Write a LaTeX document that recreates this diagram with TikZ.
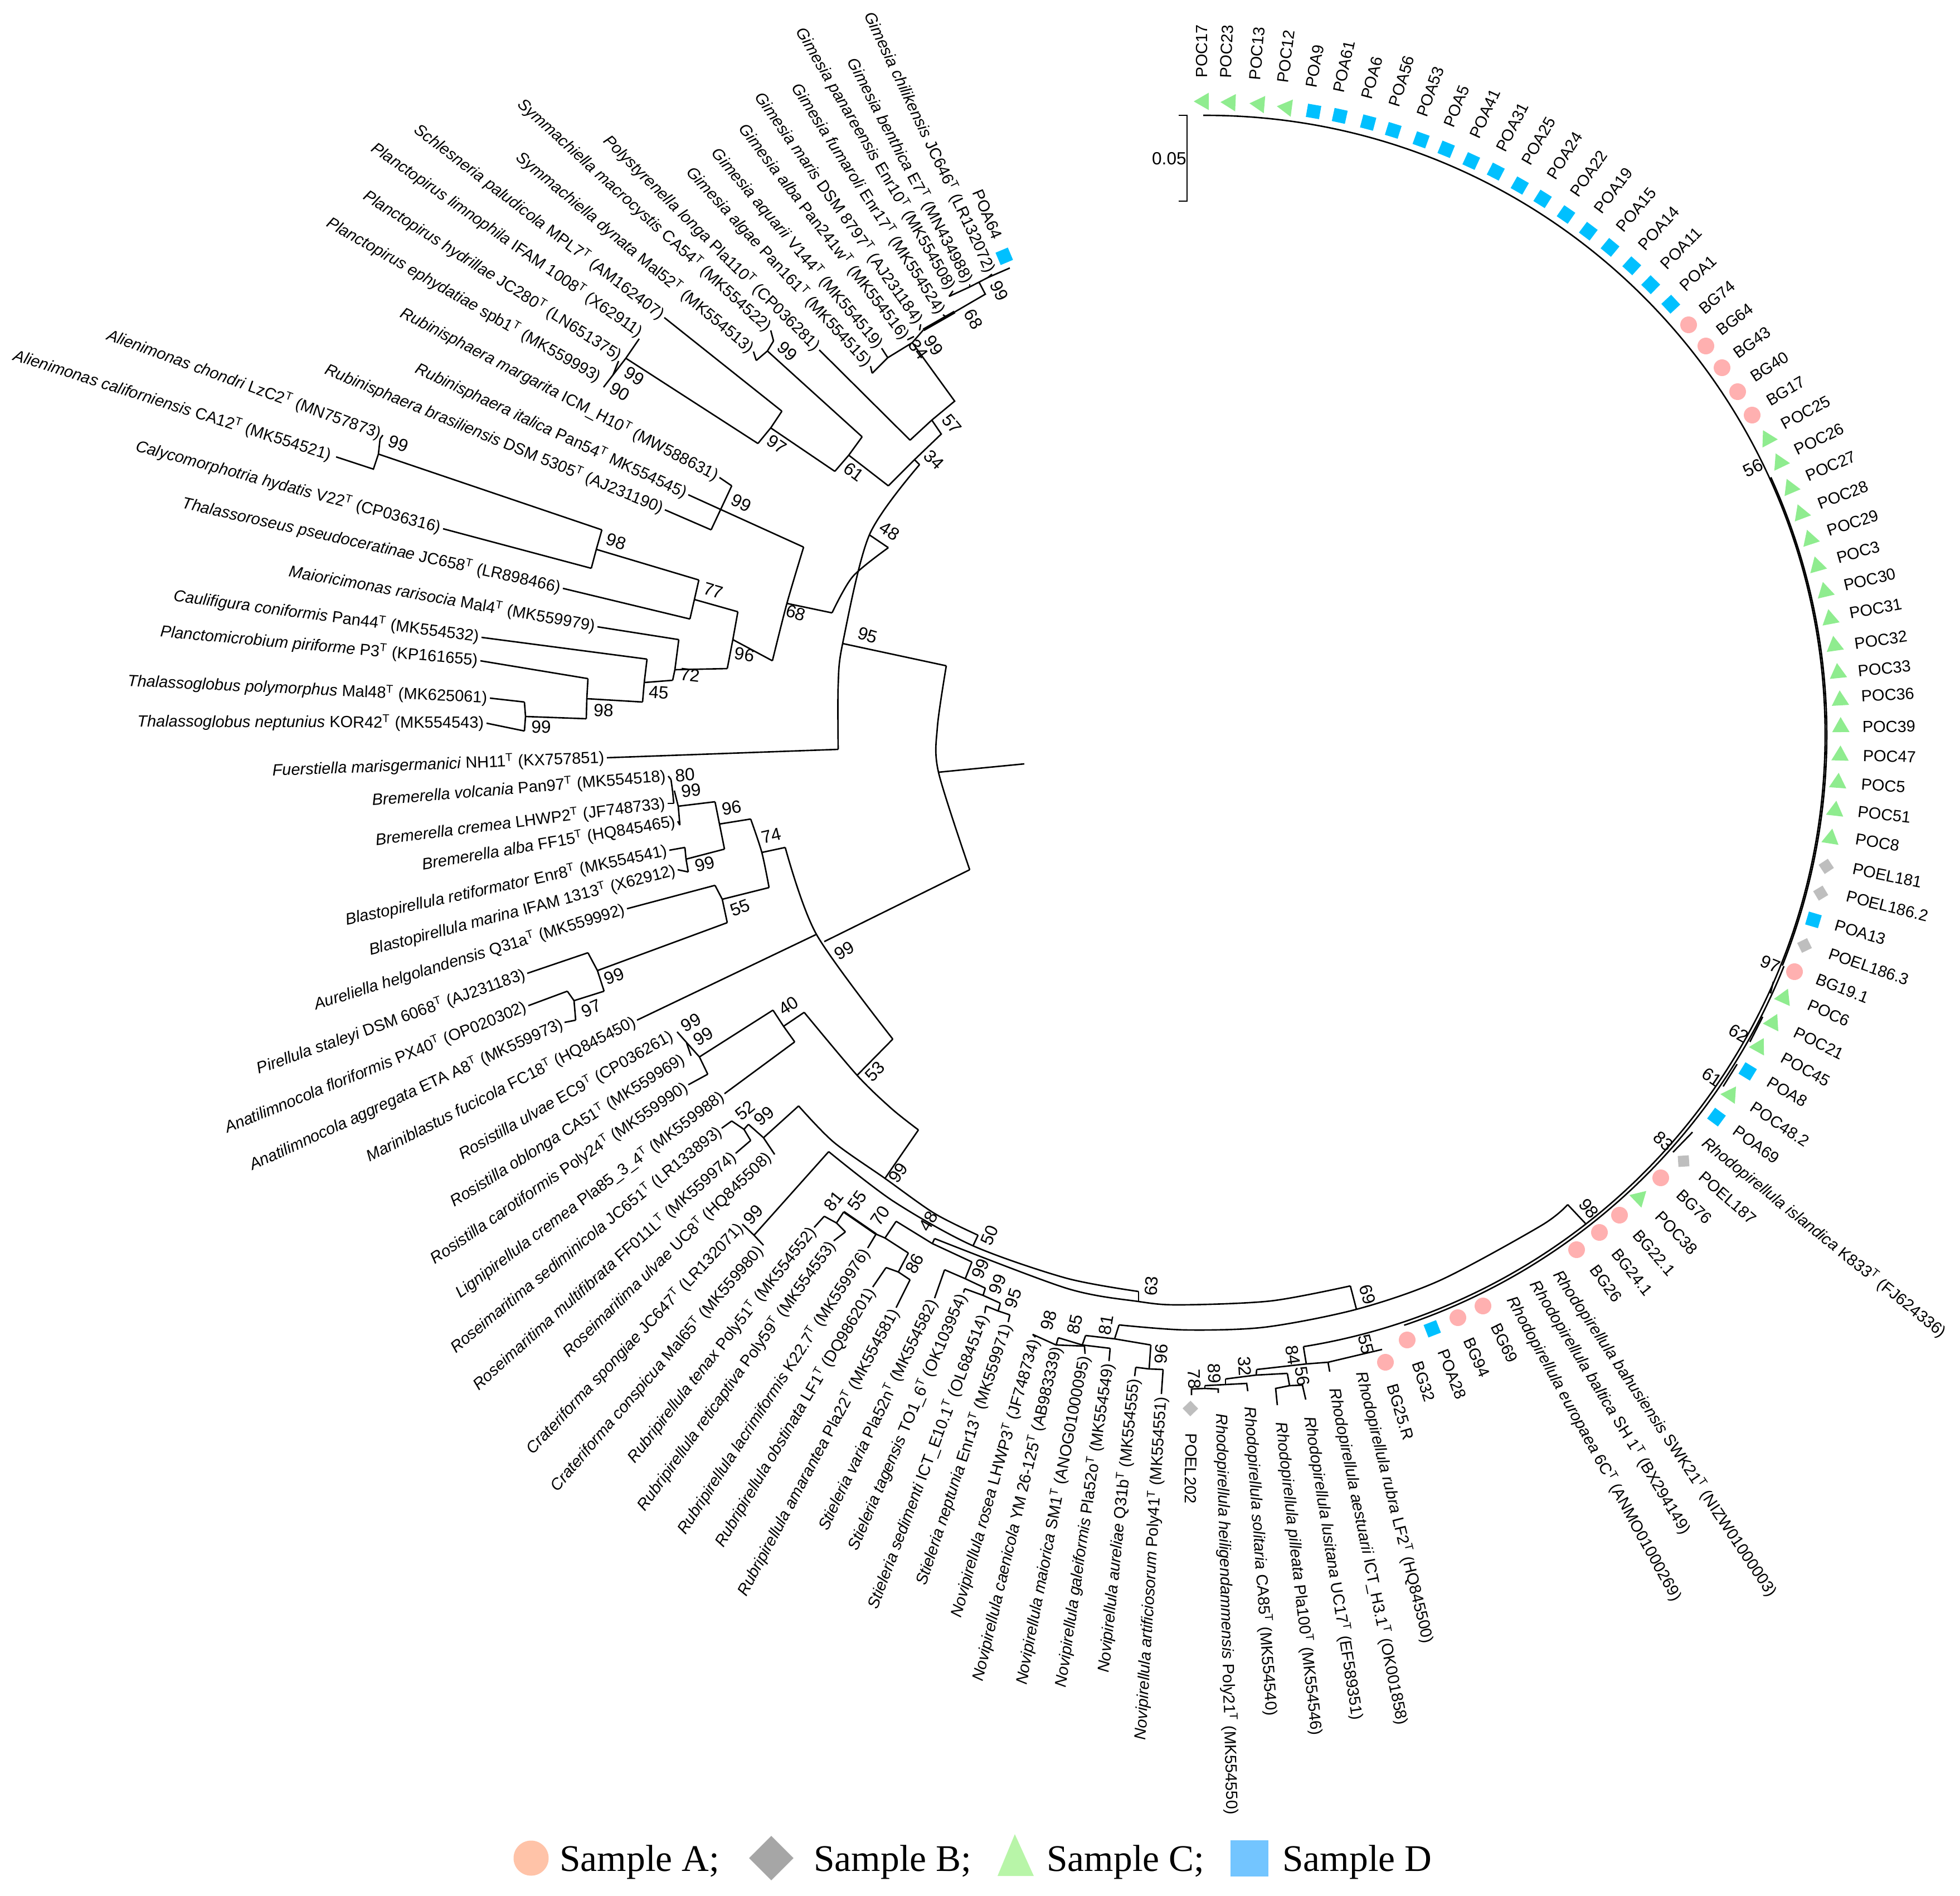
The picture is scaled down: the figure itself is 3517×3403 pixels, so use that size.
\documentclass[tikz,border=0pt]{standalone}
\usepackage{fontspec}
\setmainfont{Liberation Sans}
\newfontfamily\legfont{Liberation Serif}
\usetikzlibrary{shapes.geometric}

\newcommand{\spp}[3]{\textit{#1} #2\textsuperscript{T} (#3)}
\newcommand{\tipang}[1]{90.1-2.48*(#1)}
\newcommand{\bootlab}[4]{\pgfmathsetmacro{\rotv}{atan((#3-1319)/(2163-#2))}%
  \node[val,rotate=\rotv] (#1) at (#2,-#3) {#4};}

\definecolor{colA}{HTML}{FFB0B0}
\definecolor{colB}{HTML}{BEBEBE}
\definecolor{colC}{HTML}{8FEC8F}
\definecolor{colD}{HTML}{00C0FF}
\definecolor{legA}{HTML}{FFC3A8}
\definecolor{legB}{HTML}{A6A6A6}
\definecolor{legC}{HTML}{B8F5A8}
\definecolor{legD}{HTML}{73C5FF}
\tikzset{
  lab/.style={inner sep=1pt,font=\fontsize{8.25}{10}\selectfont},
  tipl/.style={lab,anchor=east},
  tipr/.style={lab,anchor=west},
  val/.style={inner sep=0pt,font=\fontsize{9}{10}\selectfont},
  mkA/.style={circle,fill=colA,inner sep=0pt,minimum size=3mm},
  mkB/.style={diamond,fill=colB,inner sep=0pt,minimum size=2.9mm},
  mkC/.style={regular polygon,regular polygon sides=3,fill=colC,inner sep=0pt,minimum size=3.6mm},
  mkD/.style={rectangle,fill=colD,inner sep=0pt,minimum size=2.4mm},
  leg/.style={inner sep=0pt,anchor=base west,font=\legfont\fontsize{19.2}{22}\selectfont}
}

\begin{document}
\begin{tikzpicture}[x=0.1mm,y=0.1mm,line width=.75pt]
\useasboundingbox (0,0) rectangle (3517,-3403);

% right hand tips, from the top of the ring
\node[tipr,rotate={\tipang{0}}] (poc17) at (2157,-144) {POC17};
\node[tipr,rotate={\tipang{1}}] (poc23) at (2199,-145) {POC23};
\node[tipr,rotate={\tipang{2}}] (poc13) at (2251,-148) {POC13};
\node[tipr,rotate={\tipang{3}}] (poc12) at (2301,-153) {POC12};
\node[tipr,rotate={\tipang{4}}] (poa9) at (2352,-162) {POA9};
\node[tipr,rotate={\tipang{5}}] (poa61) at (2401,-170) {POA61};
\node[tipr,rotate={\tipang{6}}] (poa6) at (2451,-182) {POA6};
\node[tipr,rotate={\tipang{7}}] (poa56) at (2500,-195) {POA56};
\node[tipr,rotate={\tipang{8}}] (poa53) at (2549,-213) {POA53};
\node[tipr,rotate={\tipang{9}}] (poa5) at (2597,-231) {POA5};
\node[tipr,rotate={\tipang{10}}] (poa41) at (2643,-251) {POA41};
\node[tipr,rotate={\tipang{11}}] (poa31) at (2690,-274) {POA31};
\node[tipr,rotate={\tipang{12}}] (poa25) at (2735,-298) {POA25};
\node[tipr,rotate={\tipang{13}}] (poa24) at (2780,-323) {POA24};
\node[tipr,rotate={\tipang{14}}] (poa22) at (2822,-354) {POA22};
\node[tipr,rotate={\tipang{15}}] (poa19) at (2864,-383) {POA19};
\node[tipr,rotate={\tipang{16}}] (poa15) at (2903,-416) {POA15};
\node[tipr,rotate={\tipang{17}}] (poa14) at (2942,-448) {POA14};
\node[tipr,rotate={\tipang{18}}] (poa11) at (2981,-482) {POA11};
\node[tipr,rotate={\tipang{19}}] (poa1) at (3015,-520) {POA1};
\node[tipr,rotate={\tipang{20}}] (bg74) at (3049,-561) {BG74};
\node[tipr,rotate={\tipang{21}}] (bg64) at (3080,-599) {BG64};
\node[tipr,rotate={\tipang{22}}] (bg43) at (3110,-639) {BG43};
\node[tipr,rotate={\tipang{23}}] (bg40) at (3140,-681) {BG40};
\node[tipr,rotate={\tipang{24}}] (bg17) at (3168,-723) {BG17};
\node[tipr,rotate={\tipang{25}}] (poc25) at (3194,-765) {POC25};
\node[tipr,rotate={\tipang{26}}] (poc26) at (3217,-811) {POC26};
\node[tipr,rotate={\tipang{27}}] (poc27) at (3237,-857) {POC27};
\node[tipr,rotate={\tipang{28}}] (poc28) at (3258,-907) {POC28};
\node[tipr,rotate={\tipang{29}}] (poc29) at (3275,-955) {POC29};
\node[tipr,rotate={\tipang{30}}] (poc3) at (3292,-1003) {POC3};
\node[tipr,rotate={\tipang{31}}] (poc30) at (3304,-1052) {POC30};
\node[tipr,rotate={\tipang{32}}] (poc31) at (3314,-1102) {POC31};
\node[tipr,rotate={\tipang{33}}] (poc32) at (3323,-1156) {POC32};
\node[tipr,rotate={\tipang{34}}] (poc33) at (3329,-1205) {POC33};
\node[tipr,rotate={\tipang{35}}] (poc36) at (3335,-1250) {POC36};
\node[tipr,rotate={\tipang{36}}] (poc39) at (3337,-1305) {POC39};
\node[tipr,rotate={\tipang{37}}] (poc47) at (3338,-1356) {POC47};
\node[tipr,rotate={\tipang{38}}] (poc5) at (3335,-1407) {POC5};
\node[tipr,rotate={\tipang{39}}] (poc51) at (3329,-1456) {POC51};
\node[tipr,rotate={\tipang{40}}] (poc8) at (3325,-1505) {POC8};
\node[tipr,rotate={\tipang{41}}] (poel181) at (3320,-1558) {POEL181};
\node[tipr,rotate={\tipang{42}}] (poel1862) at (3309,-1607) {POEL186.2};
\node[tipr,rotate={\tipang{43}}] (poa13) at (3289,-1659) {POA13};
\node[tipr,rotate={\tipang{44}}] (poel1863) at (3278,-1709) {POEL186.3};
\node[tipr,rotate={\tipang{45}}] (bg191) at (3256,-1754) {BG19.1};
\node[tipr,rotate={\tipang{46}}] (poc6) at (3241,-1800) {POC6};
\node[tipr,rotate={\tipang{47}}] (poc21) at (3217,-1849) {POC21};
\node[tipr,rotate={\tipang{48}}] (poc45) at (3194,-1894) {POC45};
\node[tipr,rotate={\tipang{49}}] (poa8) at (3170,-1937) {POA8};
\node[tipr,rotate={\tipang{50}}] (poc482) at (3140,-1982) {POC48.2};
\node[tipr,rotate={\tipang{51}}] (poa69) at (3110,-2024) {POA69};
\node[tipr,rotate={\tipang{52}}] (risl) at (3054,-2045) {\spp{Rhodopirellula islandica}{K833}{FJ624336}};
\node[tipr,rotate={\tipang{53}}] (poel187) at (3049,-2105) {POEL187};
\node[tipr,rotate={\tipang{54}}] (bg76) at (3010,-2137) {BG76};
\node[tipr,rotate={\tipang{55}}] (poc38) at (2972,-2175) {POC38};
\node[tipr,rotate={\tipang{56}}] (bg221) at (2933,-2208) {BG22.1};
\node[tipr,rotate={\tipang{57}}] (bg241) at (2895,-2241) {BG24.1};
\node[tipr,rotate={\tipang{58}}] (bg26) at (2857,-2270) {BG26};
\node[tipr,rotate={\tipang{59}}] (rbah) at (2791,-2279) {\spp{Rhodopirellula bahusiensis}{SWK21}{NIZW01000003}};
\node[tipr,rotate={\tipang{60}}] (rbal) at (2750,-2297) {\spp{Rhodopirellula baltica}{SH 1}{BX294149}};
\node[tipr,rotate={\tipang{61}}] (reur) at (2709,-2325) {\spp{Rhodopirellula europaea}{6C}{ANMO01000269}};
\node[tipr,rotate={\tipang{62}}] (bg69) at (2681,-2373) {BG69};
\node[tipr,rotate={\tipang{63}}] (bg94) at (2633,-2398) {BG94};
\node[tipr,rotate={\tipang{64}}] (poa28) at (2587,-2418) {POA28};
\node[tipr,rotate={\tipang{65}}] (bg32) at (2541,-2440) {BG32};
\node[tipr,rotate={\tipang{66}}] (bg25r) at (2497,-2480) {BG25.R};
\node[tipr,rotate={\tipang{67}}] (rrub) at (2441,-2458) {\spp{Rhodopirellula rubra}{LF2}{HQ845500}};
\node[tipr,rotate={\tipang{68}}] (raes) at (2393,-2487) {\spp{Rhodopirellula aestuarii}{ICT\_H3.1}{OK001858}};
\node[tipr,rotate={\tipang{69}}] (rlus) at (2349,-2538) {\spp{Rhodopirellula lusitana}{UC17}{EF589351}};
\node[tipr,rotate={\tipang{70}}] (rpil) at (2298,-2548) {\spp{Rhodopirellula pilleata}{Pla100}{MK554546}};
\node[tipr,rotate={\tipang{71}}] (rsol) at (2242,-2520) {\spp{Rhodopirellula solitaria}{CA85}{MK554540}};
\node[tipr,rotate={\tipang{72}}] (rhei) at (2191,-2532) {\spp{Rhodopirellula heiligendammensis}{Poly21}{MK554550}};
\node[tipr,rotate={\tipang{73}}] (poel202) at (2138,-2568) {POEL202};

% left hand tips
\node[tipl,rotate={\tipang{74}+180}] (nart) at (2084,-2502) {\spp{Novipirellula artificiosorum}{Poly41}{MK554551}};
\node[tipl,rotate={\tipang{75}+180}] (naur) at (2036,-2470) {\spp{Novipirellula aureliae}{Q31b}{MK554555}};
\node[tipl,rotate={\tipang{76}+180}] (ngal) at (1990,-2443) {\spp{Novipirellula galeiformis}{Pla52o}{MK554549}};
\node[tipl,rotate={\tipang{77}+180}] (nmai) at (1947,-2430) {\spp{Novipirellula maiorica}{SM1}{ANOG01000095}};
\node[tipl,rotate={\tipang{78}+180}] (ncae) at (1898,-2413) {\spp{Novipirellula caenicola}{YM 26-125}{AB983339}};
\node[tipl,rotate={\tipang{79}+180}] (nros) at (1858,-2400) {\spp{Novipirellula rosea}{LHWP3}{JF748734}};
\node[tipl,rotate={\tipang{80}+180}] (snep) at (1809,-2373) {\spp{Stieleria neptunia}{Enr13}{MK559971}};
\node[tipl,rotate={\tipang{81}+180}] (ssed) at (1767,-2357) {\spp{Stieleria sedimenti}{ICT\_E10.1}{OL684514}};
\node[tipl,rotate={\tipang{82}+180}] (stag) at (1729,-2320) {\spp{Stieleria tagensis}{TO1\_6}{OK103954}};
\node[tipl,rotate={\tipang{83}+180}] (svar) at (1677,-2330) {\spp{Stieleria varia}{Pla52n}{MK554582}};
\node[tipl,rotate={\tipang{84}+180}] (rama) at (1608,-2347) {\spp{Rubripirellula amarantea}{Pla22}{MK554581}};
\node[tipl,rotate={\tipang{85}+180}] (robs) at (1566,-2310) {\spp{Rubripirellula obstinata}{LF1}{DQ986201}};
\node[tipl,rotate={\tipang{86}+180}] (rlac) at (1557,-2240) {\spp{Rubripirellula lacrimiformis}{K22.7}{MK559976}};
\node[tipl,rotate={\tipang{87}+180}] (rret) at (1496,-2227) {\spp{Rubripirellula reticaptiva}{Poly59}{MK554553}};
\node[tipl,rotate={\tipang{88}+180}] (rten) at (1461,-2203) {\spp{Rubripirellula tenax}{Poly51}{MK554552}};
\node[tipl,rotate={\tipang{89}+180}] (ccon) at (1367,-2237) {\spp{Crateriforma conspicua}{Mal65}{MK559980}};
\node[tipl,rotate={\tipang{90}+180}] (cspo) at (1332,-2197) {\spp{Crateriforma spongiae}{JC647}{LR132071}};
\node[tipl,rotate={\tipang{91}+180}] (rulv) at (1383,-2070) {\spp{Roseimaritima ulvae}{UC8}{HQ845508}};
\node[tipl,rotate={\tipang{92}+180}] (rmul) at (1320,-2070) {\spp{Roseimaritima multifibrata}{FF011L}{MK559974}};
\node[tipl,rotate={\tipang{93}+180}] (rsed) at (1295,-2025) {\spp{Roseimaritima sediminicola}{JC651}{LR133893}};
\node[tipl,rotate={\tipang{94}+180}] (lcre) at (1300,-1963) {\spp{Lignipirellula cremea}{Pla85\_3\_4}{MK559988}};
\node[tipl,rotate={\tipang{95}+180}] (rcar) at (1235,-1947) {\spp{Rosistilla carotiformis}{Poly24}{MK559990}};
\node[tipl,rotate={\tipang{96}+180}] (robl) at (1230,-1897) {\spp{Rosistilla oblonga}{CA51}{MK559969}};
\node[tipl,rotate={\tipang{97}+180}] (rosu) at (1210,-1856) {\spp{Rosistilla ulvae}{EC9}{CP036261}};
\node[tipl,rotate={\tipang{98}+180}] (mfuc) at (1143,-1831) {\spp{Mariniblastus fucicola}{FC18}{HQ845450}};
\node[tipl,rotate={\tipang{99}+180}] (aagg) at (1013,-1835) {\spp{Anatilimnocola aggregata}{ETA A8}{MK559973}};
\node[tipl,rotate={\tipang{100}+180}] (aflo) at (948,-1805) {\spp{Anatilimnocola floriformis}{PX40}{OP020302}};
\node[tipl,rotate={\tipang{101}+180}] (psta) at (946,-1747) {\spp{Pirellula staleyi}{DSM 6068}{AJ231183}};
\node[tipl,rotate={\tipang{102}+180}] (ahel) at (1125,-1631) {\spp{Aureliella helgolandensis}{Q31a}{MK559992}};
\node[tipl,rotate={\tipang{103}+180}] (bmar) at (1216,-1561) {\spp{Blastopirellula marina}{IFAM 1313}{X62912}};
\node[tipl,rotate={\tipang{104}+180}] (bret) at (1201,-1526) {\spp{Blastopirellula retiformator}{Enr8}{MK554541}};
\node[tipl,rotate={\tipang{105}+180}] (balb) at (1216,-1474) {\spp{Bremerella alba}{FF15}{HQ845465}};
\node[tipl,rotate={\tipang{106}+180}] (bcre) at (1198,-1442) {\spp{Bremerella cremea}{LHWP2}{JF748733}};
\node[tipl,rotate={\tipang{107}+180}] (bvol) at (1199,-1393) {\spp{Bremerella volcania}{Pan97}{MK554518}};
\node[tipl,rotate={\tipang{108}+180}] (fmar) at (1089,-1360) {\spp{Fuerstiella marisgermanici}{NH11}{KX757851}};
\node[tipl,rotate={\tipang{109}+180}] (tnep) at (873,-1298) {\spp{Thalassoglobus neptunius}{KOR42}{MK554543}};
\node[tipl,rotate={\tipang{110}+180}] (tpol) at (879,-1253) {\spp{Thalassoglobus polymorphus}{Mal48}{MK625061}};
\node[tipl,rotate={\tipang{111}+180}] (ppir) at (862,-1186) {\spp{Planctomicrobium piriforme}{P3}{KP161655}};
\node[tipl,rotate={\tipang{112}+180}] (ccnf) at (864,-1144) {\spp{Caulifigura coniformis}{Pan44}{MK554532}};
\node[tipl,rotate={\tipang{113}+180}] (mrar) at (1072,-1125) {\spp{Maioricimonas rarisocia}{Mal4}{MK559979}};
\node[tipl,rotate={\tipang{114}+180}] (tpse) at (1010,-1056) {\spp{Thalassoroseus pseudoceratinae}{JC658}{LR898466}};
\node[tipl,rotate={\tipang{115}+180}] (chyd) at (795,-949) {\spp{Calycomorphotria hydatis}{V22}{CP036316}};
\node[tipl,rotate={\tipang{116}+180}] (acal) at (598,-819) {\spp{Alienimonas californiensis}{CA12}{MK554521}};
\node[tipl,rotate={\tipang{117}+180}] (acho) at (687,-781) {\spp{Alienimonas chondri}{LzC2}{MN757873}};
\node[tipl,rotate={\tipang{118}+180}] (rbra) at (1193,-915) {\spp{Rubinisphaera brasiliensis}{DSM 5305}{AJ231190}};
\node[tipl,rotate={\tipang{119}+180}] (rita) at (1235,-888) {\textit{Rubinisphaera italica} Pan54\textsuperscript{T} MK554545)};
\node[tipl,rotate={\tipang{120}+180}] (rmar) at (1291,-857) {\spp{Rubinisphaera margarita}{ICM\_H10}{MW588631}};
\node[tipl,rotate={\tipang{121}+180}] (peph) at (1080,-681) {\spp{Planctopirus ephydatiae}{spb1}{MK559993}};
\node[tipl,rotate={\tipang{122}+180}] (phyd) at (1117,-643) {\spp{Planctopirus hydrillae}{JC280}{LN651375}};
\node[tipl,rotate={\tipang{123}+180}] (plim) at (1154,-601) {\spp{Planctopirus limnophila}{IFAM 1008}{X62911}};
\node[tipl,rotate={\tipang{124}+180}] (spal) at (1192,-570) {\spp{Schlesneria paludicola}{MPL7}{AM162407}};
\node[tipl,rotate={\tipang{125}+180}] (sdyn) at (1352,-631) {\spp{Symmachiella dynata}{Mal52}{MK554513}};
\node[tipl,rotate={\tipang{126}+180}] (smac) at (1383,-593) {\spp{Symmachiella macrocystis}{CA54}{MK554522}};
\node[tipl,rotate={\tipang{127}+180}] (plon) at (1470,-628) {\spp{Polystyrenella longa}{Pla110}{CP036281}};
\node[tipl,rotate={\tipang{128}+180}] (galg) at (1562,-657) {\spp{Gimesia algae}{Pan161}{MK554515}};
\node[tipl,rotate={\tipang{129}+180}] (gaqu) at (1582,-625) {\spp{Gimesia aquarii}{V144}{MK554519}};
\node[tipl,rotate={\tipang{130}+180}] (galb) at (1628,-610) {\spp{Gimesia alba}{Pan241w}{MK554516}};
\node[tipl,rotate={\tipang{131}+180}] (gmar) at (1652,-582) {\spp{Gimesia maris}{DSM 8797}{AJ231184}};
\node[tipl,rotate={\tipang{132}+180}] (gfum) at (1692,-565) {\spp{Gimesia fumaroli}{Enr17}{MK554524}};
\node[tipl,rotate={\tipang{133}+180}] (gpan) at (1710,-522) {\spp{Gimesia panareensis}{Enr10}{MK554508}};
\node[tipl,rotate={\tipang{134}+180}] (gben) at (1740,-510) {\spp{Gimesia benthica}{E7}{MN434988}};
\node[tipl,rotate={\tipang{135}+180}] (gchi) at (1780,-492) {\spp{Gimesia chilikensis}{JC646}{LR132072}};
\node[tipl,rotate={\tipang{136}+180}] (poa64) at (1792,-432) {POA64};

% sample markers
\node[mkC,rotate={\tipang{0}}] (m0) at (2160,-182) {};
\node[mkC,rotate={\tipang{1}}] (m1) at (2208,-184) {};
\node[mkC,rotate={\tipang{2}}] (m2) at (2260,-187) {};
\node[mkC,rotate={\tipang{3}}] (m3) at (2309,-193) {};
\node[mkD,rotate={\tipang{4}}] (m4) at (2357,-200) {};
\node[mkD,rotate={\tipang{5}}] (m5) at (2404,-208) {};
\node[mkD,rotate={\tipang{6}}] (m6) at (2455,-220) {};
\node[mkD,rotate={\tipang{7}}] (m7) at (2500,-234) {};
\node[mkD,rotate={\tipang{8}}] (m8) at (2550,-251) {};
\node[mkD,rotate={\tipang{9}}] (m9) at (2595,-268) {};
\node[mkD,rotate={\tipang{10}}] (m10) at (2640,-289) {};
\node[mkD,rotate={\tipang{11}}] (m11) at (2684,-308) {};
\node[mkD,rotate={\tipang{12}}] (m12) at (2727,-333) {};
\node[mkD,rotate={\tipang{13}}] (m13) at (2768,-357) {};
\node[mkD,rotate={\tipang{14}}] (m14) at (2810,-385) {};
\node[mkD,rotate={\tipang{15}}] (m15) at (2850,-415) {};
\node[mkD,rotate={\tipang{16}}] (m16) at (2889,-444) {};
\node[mkD,rotate={\tipang{17}}] (m17) at (2928,-477) {};
\node[mkD,rotate={\tipang{18}}] (m18) at (2962,-511) {};
\node[mkD,rotate={\tipang{19}}] (m19) at (2998,-546) {};
\node[mkA] (m20) at (3030,-583) {};
\node[mkA] (m21) at (3061,-621) {};
\node[mkA] (m22) at (3090,-660) {};
\node[mkA] (m23) at (3118,-703) {};
\node[mkA] (m24) at (3144,-745) {};
\node[mkC,rotate={\tipang{25}}] (m25) at (3172,-788) {};
\node[mkC,rotate={\tipang{26}}] (m26) at (3194,-830) {};
\node[mkC,rotate={\tipang{27}}] (m27) at (3213,-876) {};
\node[mkC,rotate={\tipang{28}}] (m28) at (3232,-922) {};
\node[mkC,rotate={\tipang{29}}] (m29) at (3248,-968) {};
\node[mkC,rotate={\tipang{30}}] (m30) at (3261,-1016) {};
\node[mkC,rotate={\tipang{31}}] (m31) at (3275,-1062) {};
\node[mkC,rotate={\tipang{32}}] (m32) at (3284,-1111) {};
\node[mkC,rotate={\tipang{33}}] (m33) at (3292,-1159) {};
\node[mkC,rotate={\tipang{34}}] (m34) at (3298,-1208) {};
\node[mkC,rotate={\tipang{35}}] (m35) at (3302,-1257) {};
\node[mkC,rotate={\tipang{36}}] (m36) at (3303,-1305) {};
\node[mkC,rotate={\tipang{37}}] (m37) at (3302,-1356) {};
\node[mkC,rotate={\tipang{38}}] (m38) at (3298,-1405) {};
\node[mkC,rotate={\tipang{39}}] (m39) at (3293,-1455) {};
\node[mkC,rotate={\tipang{40}}] (m40) at (3285,-1505) {};
\node[mkB,rotate={\tipang{41}}] (m41) at (3277,-1555) {};
\node[mkB,rotate={\tipang{42}}] (m42) at (3267,-1603) {};
\node[mkD,rotate={\tipang{43}}] (m43) at (3254,-1651) {};
\node[mkB,rotate={\tipang{44}}] (m44) at (3238,-1697) {};
\node[mkA] (m45) at (3220,-1744) {};
\node[mkC,rotate={\tipang{46}}] (m46) at (3201,-1791) {};
\node[mkC,rotate={\tipang{47}}] (m47) at (3181,-1836) {};
\node[mkC,rotate={\tipang{48}}] (m48) at (3156,-1879) {};
\node[mkD,rotate={\tipang{49}}] (m49) at (3136,-1923) {};
\node[mkC,rotate={\tipang{50}}] (m50) at (3105,-1965) {};
\node[mkD,rotate={\tipang{51}}] (m51) at (3080,-2005) {};
\node[mkB,rotate={\tipang{53}}] (m53) at (3021,-2084) {};
\node[mkA] (m54) at (2980,-2114) {};
\node[mkC,rotate={\tipang{55}}] (m55) at (2941,-2150) {};
\node[mkA] (m56) at (2906,-2181) {};
\node[mkA] (m57) at (2870,-2212) {};
\node[mkA] (m58) at (2829,-2243) {};
\node[mkA] (m62) at (2661,-2344) {};
\node[mkA] (m63) at (2616,-2365) {};
\node[mkD,rotate={\tipang{64}}] (m64) at (2570,-2385) {};
\node[mkA] (m65) at (2525,-2405) {};
\node[mkA] (m66) at (2486,-2445) {};
\node[mkB,rotate={\tipang{73}}] (m73) at (2136,-2528) {};
\node[mkD,rotate={\tipang{136}}] (m136) at (1802,-460) {};

% ring
\coordinate (cen) at (2163,-1319);
\coordinate (ringtop) at ([shift={(cen)}]90.2:1112);
\coordinate (ringin) at ([shift={(cen)}]24.5:1115);
\coordinate (ringlow) at ([shift={(cen)}]-21.8:1118);
\draw (ringtop) arc[start angle=90.2,end angle=-80.9,radius=1112];
\draw (ringin) arc[start angle=24.5,end angle=-21.8,radius=1115];
\draw (ringlow) arc[start angle=-21.8,end angle=-71.4,radius=1118];
\coordinate (sa1) at (3182,-1762); \coordinate (sa2) at (3177,-1783);
\coordinate (sb1) at (3163,-1825); \coordinate (sb2) at (3140,-1870);
\coordinate (sc1) at (3117,-1910); \coordinate (sc2) at (3092,-1950);
\coordinate (sd1) at (3037,-2032); \coordinate (sd2) at (3002,-2068);
\draw (sa1) -- (sa2);
\draw (sb1) -- (sb2);
\draw (sc1) -- (sc2);
\draw (sd1) -- (sd2);

% root and the long arcs
\coordinate (root) at (1838,-1371);
\coordinate (rt) at (1698,-1195); \coordinate (rm) at (1682,-1305);
\coordinate (rj) at (1684,-1386); \coordinate (rb) at (1740,-1561);
\draw plot[smooth] coordinates {(rt) (rm) (rj) (rb)};
\draw (root) -- (rj);

\coordinate (n95t) at (1650,-834); \coordinate (n48a) at (1560,-960);
\coordinate (n95j) at (1512,-1155); \coordinate (n95k) at (1504,-1230);
\coordinate (n95b) at (1504,-1345);
\draw plot[smooth] coordinates {(n95t) (n48a) (n95j) (n95k) (n95b)};
\draw (n95j) -- (rt);
\draw (fmar.east) -- (n95b);
\coordinate (n48b) at (1594,-983); \coordinate (n48m) at (1530,-1035);
\coordinate (n48c) at (1493,-1100);
\draw (n48a) -- (n48b);
\draw plot[smooth] coordinates {(n48b) (n48m) (n48c)};

% Gimesia to Schlesneria
\coordinate (ga) at (1812,-481); \coordinate (gb) at (1773,-498);
\coordinate (gc) at (1740,-515); \coordinate (gd) at (1703,-532);
\coordinate (ge) at (1757,-507); \coordinate (gf) at (1768,-528);
\coordinate (gg) at (1713,-560); \coordinate (gh) at (1657,-592);
\coordinate (gi) at (1637,-615); \coordinate (gj) at (1593,-642);
\coordinate (gk) at (1565,-670);
\coordinate (gl) at (1650,-593); \coordinate (gm) at (1640,-604);
\coordinate (gn) at (1700,-570);
\draw (ga) -- (gb) -- (gc) -- (gd);
\draw (ge) -- (gf) -- (gg);
\draw[line width=1.5pt] (gg) -- (gh);
\draw (gh) -- (gi) -- (gj) -- (gk);
\draw (gchi.east) -- (gb);
\draw (gben.east) -- (gc);
\draw (gpan.east) -- (gd);
\draw (gfum.east) -- (gn);
\draw (gmar.east) -- (gl);
\draw (galb.east) -- (gm);
\draw (gaqu.east) -- (gj);
\draw (galg.east) -- (gk);
\coordinate (n34a) at (1655,-640); \coordinate (n57t) at (1713,-720);
\coordinate (n57m) at (1672,-754); \coordinate (n57b) at (1633,-790);
\draw (gi) -- (n34a) -- (n57t) -- (n57m) -- (n57b);
\draw (plon.east) -- (n57b);
\coordinate (n34t) at (1689,-779); \coordinate (n34j) at (1641,-825);
\coordinate (n34b) at (1594,-872);
\draw (n57m) -- (n34t) -- (n34j) -- (n34b);
\draw (n34j) -- (n95t);
\coordinate (n61t) at (1547,-784); \coordinate (n61m) at (1523,-817);
\coordinate (n61b) at (1498,-846);
\draw (n61t) -- (n61m) -- (n61b);
\draw (n61m) -- (n34b);
\coordinate (st) at (1388,-612); \coordinate (sm) at (1377,-630);
\coordinate (sb) at (1357,-647);
\draw (st) -- (sm) -- (sb);
\draw (smac.east) -- (st);
\draw (sdyn.east) -- (sb);
\draw (sm) -- (n61t);
\coordinate (n97t) at (1403,-738); \coordinate (n97m) at (1383,-768);
\coordinate (n97b) at (1360,-796);
\draw (n97t) -- (n97m) -- (n97b);
\draw (n97m) -- (n61b);
\draw (spal.east) -- (n97t);
\coordinate (plt) at (1147,-608); \coordinate (plm) at (1123,-643);
\coordinate (plb) at (1083,-695); \coordinate (ple) at (1110,-648);
\coordinate (plf) at (1100,-673);
\draw (plt) -- (plm) -- (plb);
\draw (ple) -- (plf);
\draw (plm) -- (n97b);

% Rubinisphaera to Thalassoglobus
\coordinate (n68t) at (1442,-982); \coordinate (n68m) at (1412,-1083);
\coordinate (n68b) at (1386,-1186);
\draw plot[smooth] coordinates {(n68t) (n68m) (n68b)};
\draw (n68m) -- (n48c);
\draw (rita.east) -- (n68t);
\coordinate (rut) at (1313,-872); \coordinate (rub) at (1276,-951);
\draw (rut) -- (rub);
\draw (rmar.east) -- (rut);
\draw (rbra.east) -- (rub);
\coordinate (n96t) at (1324,-1098); \coordinate (n96m) at (1315,-1148);
\coordinate (n96b) at (1305,-1200);
\draw (n96t) -- (n96m) -- (n96b);
\draw (n96m) -- (n68b);
\coordinate (n77t) at (1254,-1041); \coordinate (n77m) at (1246,-1076);
\coordinate (n77b) at (1238,-1111);
\draw (n77t) -- (n77m) -- (n77b);
\draw (n77m) -- (n96t);
\draw (tpse.east) -- (n77b);
\coordinate (n98t) at (1080,-951); \coordinate (n98m) at (1070,-986);
\coordinate (n98b) at (1061,-1020);
\draw (n98t) -- (n98m) -- (n98b);
\draw (n98m) -- (n77t);
\draw (chyd.east) -- (n98b);
\coordinate (alt) at (682,-788); \coordinate (alm) at (679,-815);
\coordinate (alb) at (670,-842); \coordinate (ala) at (603,-820);
\draw (alt) -- (alm) -- (alb) -- (ala);
\draw (acho.east) -- (alt);
\draw (alm) -- (n98t);
\coordinate (n72t) at (1218,-1148); \coordinate (n72m) at (1211,-1202);
\coordinate (n72b) at (1207,-1221);
\draw (n72t) -- (n72m) -- (n72b);
\draw (n72m) -- (n96b);
\draw (mrar.east) -- (n72t);
\coordinate (n45t) at (1161,-1183); \coordinate (n45m) at (1156,-1225);
\coordinate (n45b) at (1153,-1260);
\draw (n45t) -- (n45m) -- (n45b);
\draw (n45m) -- (n72b);
\draw (ccnf.east) -- (n45t);
\coordinate (n98gt) at (1055,-1218); \coordinate (n98gm) at (1053,-1254);
\coordinate (n98gb) at (1052,-1290);
\draw (n98gt) -- (n98gm) -- (n98gb);
\draw (n98gm) -- (n45b);
\draw (ppir.east) -- (n98gt);
\coordinate (tlt) at (941,-1260); \coordinate (tlm) at (943,-1286);
\coordinate (tlb) at (941,-1312);
\draw (tlt) -- (tlm) -- (tlb);
\draw (tlm) -- (n98gb);
\draw (tpol.east) -- (tlt);
\draw (tnep.east) -- (tlb);

% Bremerella to Mariniblastus
\coordinate (n80t) at (1204,-1399); \coordinate (n80m) at (1207,-1421);
\coordinate (n80b) at (1209,-1442);
\draw (n80t) -- (n80m) -- (n80b);
\draw (bvol.east) -- (n80t);
\draw (bcre.east) -- (n80b);
\coordinate (n9bt) at (1210,-1419); \coordinate (n9bm) at (1217,-1447);
\coordinate (n9bb) at (1220,-1481);
\draw (n9bt) -- (n9bm) -- (n9bb);
\draw (balb.east) -- (n9bb);
\coordinate (n9lt) at (1229,-1521); \coordinate (n9lm) at (1231,-1542);
\coordinate (n9lb) at (1235,-1565);
\draw (n9lt) -- (n9lm) -- (n9lb);
\draw (bret.east) -- (n9lt);
\draw (bmar.east) -- (n9lb);
\coordinate (n6bt) at (1283,-1439); \coordinate (n6bm) at (1291,-1479);
\coordinate (n6bb) at (1300,-1524);
\draw (n6bt) -- (n6bm) -- (n6bb);
\draw (n9bm) -- (n6bt);
\draw (n9lm) -- (n6bb);
\coordinate (n74t) at (1347,-1470); \coordinate (n74m) at (1367,-1530);
\coordinate (n74b) at (1380,-1593);
\draw plot[smooth] coordinates {(n74t) (n74m) (n74b)};
\draw (n6bm) -- (n74t);
\coordinate (n55t) at (1283,-1589); \coordinate (n55m) at (1296,-1614);
\coordinate (n55b) at (1305,-1656);
\draw (n55t) -- (n55m) -- (n55b);
\draw (n55m) -- (n74b);
\draw (ahel.east) -- (n55t);
\coordinate (n9at) at (1055,-1710); \coordinate (n9am) at (1072,-1742);
\coordinate (n9ab) at (1084,-1779);
\draw (n9at) -- (n9am) -- (n9ab);
\draw (n9am) -- (n55b);
\draw (psta.east) -- (n9at);
\coordinate (n7at) at (1018,-1779); \coordinate (n7am) at (1030,-1796);
\coordinate (n7ab) at (1033,-1831);
\draw (n7at) -- (n7am) -- (n7ab);
\draw (n7am) -- (n9ab);
\draw (aflo.east) -- (n7at);
\draw (aagg.east) -- (n7ab);
\coordinate (a9t) at (1409,-1521); \coordinate (a9j) at (1465,-1677);
\coordinate (a9k) at (1479,-1690); \coordinate (a9b) at (1602,-1865);
\draw plot[smooth] coordinates {(a9t) (a9j) (a9b)};
\draw (n74m) -- (a9t);
\draw (mfuc.east) -- (a9j);
\draw (rb) -- (a9k);

% Rosistilla group, 53 and 40
\coordinate (a4t) at (1443,-1817); \coordinate (a4j) at (1538,-1930);
\coordinate (a4k) at (1600,-1990); \coordinate (a4b) at (1648,-2028);
\draw plot[smooth] coordinates {(a4t) (a4j) (a4k) (a4b)};
\draw (a9b) -- (a4j);
\coordinate (n40t) at (1387,-1813); \coordinate (n40m) at (1406,-1842);
\coordinate (n40b) at (1426,-1870);
\draw (n40t) -- (n40m) -- (n40b);
\draw (n40m) -- (a4t);
\draw (lcre.east) -- (n40b);
\coordinate (rst) at (1215,-1852); \coordinate (rsm) at (1255,-1897);
\coordinate (rsb) at (1270,-1928); \coordinate (rsc) at (1232,-1872);
\coordinate (rsd) at (1240,-1895);
\draw (rst) -- (rsm) -- (rsb);
\draw (rsc) -- (rsd);
\draw (rsm) -- (n40t);
\draw (rcar.east) -- (rsb);

% lower arcs
\coordinate (la0) at (1433,-1985); \coordinate (la1) at (1496,-2050);
\coordinate (lj) at (1588,-2115); \coordinate (la2) at (1677,-2178);
\coordinate (la3) at (1755,-2217);
\draw plot[smooth] coordinates {(la0) (la1) (lj) (la2) (la3)};
\draw (a4b) -- (lj);
\coordinate (n52t) at (1313,-2012); \coordinate (n52m) at (1335,-2027);
\coordinate (n52b) at (1347,-2047);
\draw (n52t) -- (n52m) -- (n52b);
\draw (rsed.east) -- (n52t);
\draw (rmul.east) -- (n52b);
\coordinate (n9rt) at (1343,-2018); \coordinate (n9rm) at (1370,-2042);
\coordinate (n9rb) at (1390,-2072);
\draw (n9rt) -- (n9rm) -- (n9rb);
\draw (n52m) -- (n9rt);
\draw (n9rm) -- (la0);
\coordinate (lc0) at (1487,-2067); \coordinate (lc1) at (1603,-2156);
\coordinate (lc2) at (1746,-2236); \coordinate (lc3) at (1913,-2294);
\coordinate (n63t) at (2043,-2318);
\draw plot[smooth] coordinates {(lc0) (lc1) (lc2) (lc3) (n63t)};
\draw (la3) -- (lc2);
\coordinate (crt) at (1332,-2197); \coordinate (crm) at (1353,-2217);
\coordinate (crb) at (1370,-2235);
\draw (crt) -- (crm) -- (crb);
\draw (crm) -- (lc0);
\coordinate (a2l) at (1677,-2223); \coordinate (a2m) at (1913,-2312);
\coordinate (a2j) at (2043,-2336); \coordinate (a2k) at (2117,-2342);
\coordinate (a2n) at (2280,-2335); \coordinate (a2r) at (2423,-2308);
\draw plot[smooth] coordinates {(a2l) (a2m) (a2j) (a2k) (a2n) (a2r)};
\draw (n63t) -- (a2j);
\coordinate (a1l) at (2008,-2378); \coordinate (a1m) at (2127,-2387);
\coordinate (a1n) at (2270,-2382); \coordinate (a69) at (2434,-2350);
\coordinate (a1k) at (2584,-2298); \coordinate (a1p) at (2765,-2200);
\coordinate (a98) at (2813,-2162); \coordinate (r98) at (2845,-2196);
\draw plot[smooth] coordinates {(a1l) (a1m) (a1n) (a69) (a1k) (a1p) (a98)};
\draw (a2r) -- (a69);
\draw (a98) -- (r98);

% Rubripirellula and Stieleria
\coordinate (b48t) at (1608,-2192); \coordinate (b48m) at (1673,-2232);
\coordinate (b48b) at (1744,-2265);
\draw (b48t) -- (b48m) -- (b48b);
\draw (a2l) -- (b48m);
\coordinate (b70t) at (1514,-2175); \coordinate (b70j) at (1572,-2215);
\coordinate (b70m) at (1588,-2222); \coordinate (b70b) at (1630,-2249);
\draw[line width=1.1pt] (b70t) -- (b70j);
\draw (b70j) -- (b70m) -- (b70b);
\draw (b48t) -- (b70m);
\draw (rlac.east) -- (b70j);
\coordinate (n81t) at (1479,-2183); \coordinate (n81m) at (1501,-2195);
\coordinate (n81b) at (1517,-2211);
\draw (n81t) -- (n81m) -- (n81b);
\draw (n81m) -- (b70t);
\draw (rten.east) -- (n81t);
\draw (rret.east) -- (n81b);
\coordinate (n86t) at (1590,-2275); \coordinate (n86m) at (1612,-2283);
\coordinate (n86b) at (1633,-2297);
\draw (n86t) -- (n86m) -- (n86b);
\draw (n86m) -- (b70b);
\draw (robs.east) -- (n86t);
\draw (rama.east) -- (n86b);
\coordinate (s1t) at (1695,-2279); \coordinate (s1m) at (1732,-2295);
\coordinate (s1b) at (1768,-2312);
\draw (s1t) -- (s1m) -- (s1b);
\draw (b48b) -- (s1m);
\draw (svar.east) -- (s1t);
\coordinate (s2t) at (1731,-2313); \coordinate (s2m) at (1764,-2325);
\coordinate (s2b) at (1795,-2339);
\draw (s2t) -- (s2m) -- (s2b);
\draw (s1b) -- (s2m);
\draw (stag.east) -- (s2t);
\coordinate (s3t) at (1769,-2344); \coordinate (s3m) at (1791,-2353);
\coordinate (s3b) at (1812,-2360);
\draw (s3t) -- (s3m) -- (s3b);
\draw (s2b) -- (s3m);
\draw (ssed.east) -- (s3t);
\draw (snep.east) -- (s3b);

% Novipirellula
\coordinate (v1t) at (1948,-2397); \coordinate (v1m) at (2000,-2403);
\coordinate (v1b) at (2065,-2414);
\draw (v1t) -- (v1m) -- (v1b);
\draw (a1l) -- (v1m);
\coordinate (v2t) at (1899,-2401); \coordinate (v2m) at (1942,-2414);
\coordinate (v2b) at (1992,-2420);
\draw (v2t) -- (v2m) -- (v2b);
\draw (v1t) -- (v2m);
\draw (v2b) -- (ngal.east);
\coordinate (v3t) at (1853,-2395); \coordinate (v3m) at (1895,-2414);
\coordinate (v3b) at (1946,-2416);
\draw (v3t) -- (v3m) -- (v3b);
\draw (v2t) -- (v3m);
\draw (nros.east) -- (v3t);
\draw (v3b) -- (nmai.east);
\draw (ncae.east) -- (v3m);
\coordinate (v4t) at (2038,-2454); \coordinate (v4m) at (2062,-2457);
\coordinate (v4b) at (2087,-2458);
\draw (v4t) -- (v4m) -- (v4b);
\draw (v1b) -- (v4m);
\draw (v4t) -- (naur.east);
\draw (v4b) -- (nart.east);

% end of the ring, Rhodopirellula
\coordinate (ringend) at ([shift={(cen)}]-80.9:1112);
\coordinate (n84l) at (2255,-2458); \coordinate (n84m) at (2344,-2448);
\coordinate (n84a) at (2383,-2445); \coordinate (n84r) at (2480,-2422);
\coordinate (n84s) at (2386,-2462);
\draw (ringend) -- (n84m);
\draw (n84l) -- (n84m) -- (n84a) -- (n84r);
\draw (n84a) -- (n84s);
\coordinate (n32l) at (2199,-2475); \coordinate (n32m) at (2254,-2468);
\coordinate (n32r) at (2310,-2465);
\draw (n32l) -- (n32m) -- (n32r);
\draw (n84l) -- (n32m);
\coordinate (n56l) at (2289,-2492); \coordinate (n56m) at (2314,-2487);
\coordinate (n56r) at (2337,-2486); \coordinate (n56s) at (2292,-2522);
\coordinate (n56u) at (2343,-2512);
\draw (n56s) -- (n56l) -- (n56m) -- (n56r) -- (n56u);
\draw (n32r) -- (n56m);
\coordinate (n89l) at (2162,-2487); \coordinate (n89m) at (2199,-2485);
\coordinate (n89r) at (2237,-2483); \coordinate (n89s) at (2239,-2497);
\draw (n89l) -- (n89m) -- (n89r) -- (n89s);
\draw (n32l) -- (n89m);
\coordinate (n78l) at (2138,-2493); \coordinate (n78m) at (2162,-2492);
\coordinate (n78r) at (2186,-2493); \coordinate (n78s) at (2138,-2504);
\coordinate (n78u) at (2186,-2500);
\draw (n78s) -- (n78l) -- (n78m) -- (n78r) -- (n78u);
\draw (n89l) -- (n78m);

% support values
\bootlab{lb1}{1793}{522}{99}
\bootlab{lb2}{1747}{573}{68}
\bootlab{lb3}{1675}{620}{99}
\bootlab{lb4}{1648}{627}{34}
\bootlab{lb5}{1708}{761}{57}
\bootlab{lb6}{1676}{825}{34}
\bootlab{lb7}{1596}{953}{48}
\bootlab{lb8}{1138}{675}{99}
\bootlab{lb9}{1112}{703}{90}
\bootlab{lb10}{1413}{630}{99}
\bootlab{lb11}{1394}{797}{97}
\bootlab{lb12}{1532}{847}{61}
\bootlab{lb13}{1330}{903}{99}
\bootlab{lb14}{715}{796}{99}
\bootlab{lb15}{1106}{972}{98}
\bootlab{lb16}{1280}{1060}{77}
\bootlab{lb17}{1428}{1100}{68}
\bootlab{lb18}{1336}{1175}{96}
\bootlab{lb19}{1557}{1140}{95}
\bootlab{lb20}{1238}{1212}{72}
\bootlab{lb21}{1182}{1243}{45}
\bootlab{lb22}{1083}{1275}{98}
\bootlab{lb23}{971}{1305}{99}
\bootlab{lb24}{1229}{1391}{80}
\bootlab{lb25}{1240}{1419}{99}
\bootlab{lb26}{1313}{1450}{96}
\bootlab{lb27}{1384}{1500}{74}
\bootlab{lb28}{1265}{1551}{99}
\bootlab{lb29}{1328}{1629}{55}
\bootlab{lb30}{1102}{1752}{99}
\bootlab{lb31}{1061}{1810}{97}
\bootlab{lb32}{1515}{1706}{99}
\bootlab{lb33}{1240}{1835}{99}
\bootlab{lb34}{1262}{1860}{99}
\bootlab{lb35}{1415}{1805}{40}
\bootlab{lb36}{1570}{1923}{53}
\bootlab{lb37}{1337}{1993}{52}
\bootlab{lb38}{1371}{2003}{99}
\bootlab{lb39}{1352}{2180}{99}
\bootlab{lb40}{1612}{2105}{99}
\bootlab{lb41}{1496}{2156}{81}
\bootlab{lb42}{1538}{2155}{55}
\bootlab{lb43}{1579}{2182}{70}
\bootlab{lb44}{1666}{2192}{48}
\bootlab{lb45}{1775}{2217}{50}
\bootlab{lb46}{1641}{2268}{86}
\bootlab{lb47}{1759}{2277}{99}
\bootlab{lb48}{1790}{2305}{99}
\bootlab{lb49}{1818}{2330}{95}
\bootlab{lb50}{1882}{2370}{98}
\bootlab{lb51}{1929}{2377}{85}
\bootlab{lb52}{1985}{2378}{81}
\bootlab{lb53}{2066}{2308}{63}
\bootlab{lb54}{2084}{2430}{96}
\node[val,rotate=-89] (lb55) at (2143,-2475) {78};
\bootlab{lb56}{2179}{2465}{89}
\bootlab{lb57}{2233}{2452}{32}
\bootlab{lb58}{2320}{2432}{84}
\bootlab{lb59}{2337}{2470}{56}
\bootlab{lb60}{2451}{2413}{55}
\bootlab{lb61}{2454}{2323}{69}
\bootlab{lb62}{2851}{2169}{98}
\bootlab{lb63}{2985}{2048}{83}
\bootlab{lb64}{3177}{1730}{97}
\bootlab{lb65}{3120}{1855}{62}
\bootlab{lb66}{3072}{1933}{61}
\bootlab{lb67}{3146}{840}{56}

% scale bar
\coordinate (sca) at (2115,-207); \coordinate (scb) at (2130,-207);
\coordinate (scc) at (2130,-361); \coordinate (scd) at (2115,-361);
\draw (sca) -- (scb) -- (scc) -- (scd);
\node[val,anchor=east] (scl) at (2130,-285) {0.05};

% legend
\node[circle,fill=legA,inner sep=0pt,minimum size=6.3mm] (lega) at (953,-3335) {};
\node[leg] (legat) at (1003,-3358) {Sample A;};
\node[diamond,fill=legB,inner sep=0pt,minimum size=8.1mm] (legb) at (1384,-3335) {};
\node[leg] (legbt) at (1459,-3358) {Sample B;};
\coordinate (legc1) at (1790,-3367); \coordinate (legc2) at (1855,-3367);
\coordinate (legc3) at (1821,-3292);
\fill[legC] (legc1) -- (legc2) -- (legc3) -- cycle;
\node[leg] (legct) at (1877,-3358) {Sample C;};
\node[rectangle,fill=legD,inner sep=0pt,minimum width=6.8mm,minimum height=6.5mm] (legd) at (2242,-3335) {};
\node[leg] (legdt) at (2300,-3358) {Sample D};

\end{tikzpicture}
\end{document}
